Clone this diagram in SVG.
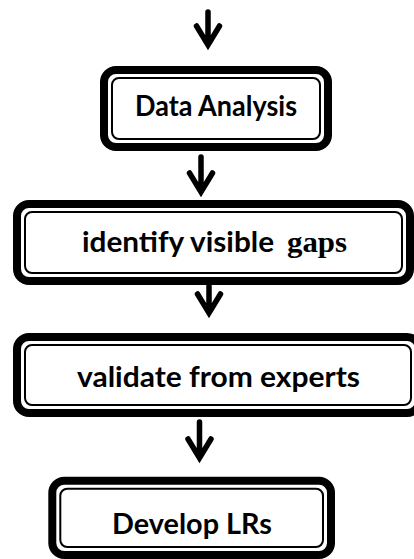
<svg xmlns="http://www.w3.org/2000/svg" width="414" height="559" viewBox="0 0 414 559">
<style>
.outer{fill:none;stroke:#000;stroke-width:8}
.inner{fill:none;stroke:#000;stroke-width:2}
.lbl{font-family:Lato,"Open Sans",sans-serif;font-weight:700;font-size:28px;fill:#000}
.arr{fill:none;stroke:#000;stroke-width:5.5;stroke-linecap:round;stroke-linejoin:miter}
</style>
<rect width="414" height="559" fill="#fff"/>
<g id="connectors">
<path class="arr" d="M208,12 V44 M196.5,26 L208,45 L219.5,26"/>
<path class="arr" d="M201,157 V190 M189.5,173 L201,192 L212.5,173"/>
<path class="arr" d="M209,286 V311 M197.5,294 L209,313 L220.5,294"/>
<path class="arr" d="M199.5,422 V456 M188,439 L199.5,458 L211,439"/>
</g>
<g id="node-data-analysis">
<rect class="outer" x="104" y="70" width="224" height="77" rx="12"/>
<rect class="inner" x="112" y="78" width="208" height="61" rx="7"/>
<text class="lbl" x="135" y="116" textLength="162" lengthAdjust="spacingAndGlyphs">Data Analysis</text>
</g>
<g id="node-identify">
<rect class="outer" x="17" y="204" width="393" height="77" rx="12"/>
<rect class="inner" x="25" y="212" width="377" height="61" rx="7"/>
<text class="lbl" y="252"><tspan x="82" textLength="192" lengthAdjust="spacingAndGlyphs">identify visible</tspan> <tspan x="287" textLength="60" lengthAdjust="spacingAndGlyphs" style="font-family:'Liberation Serif',serif;font-size:30px">gaps</tspan></text>
</g>
<g id="node-validate">
<rect class="outer" x="17" y="337" width="402" height="76" rx="12"/>
<rect class="inner" x="25" y="345" width="386" height="60" rx="7"/>
<text class="lbl" x="77" y="387" textLength="283" lengthAdjust="spacingAndGlyphs">validate from experts</text>
</g>
<g id="node-develop">
<rect class="outer" x="52.3" y="480.7" width="278.7" height="74.3" rx="12"/>
<rect class="inner" x="60.3" y="488.7" width="262.7" height="58.3" rx="7"/>
<text class="lbl" x="112" y="534" textLength="160" lengthAdjust="spacingAndGlyphs">Develop LRs</text>
</g>
</svg>
